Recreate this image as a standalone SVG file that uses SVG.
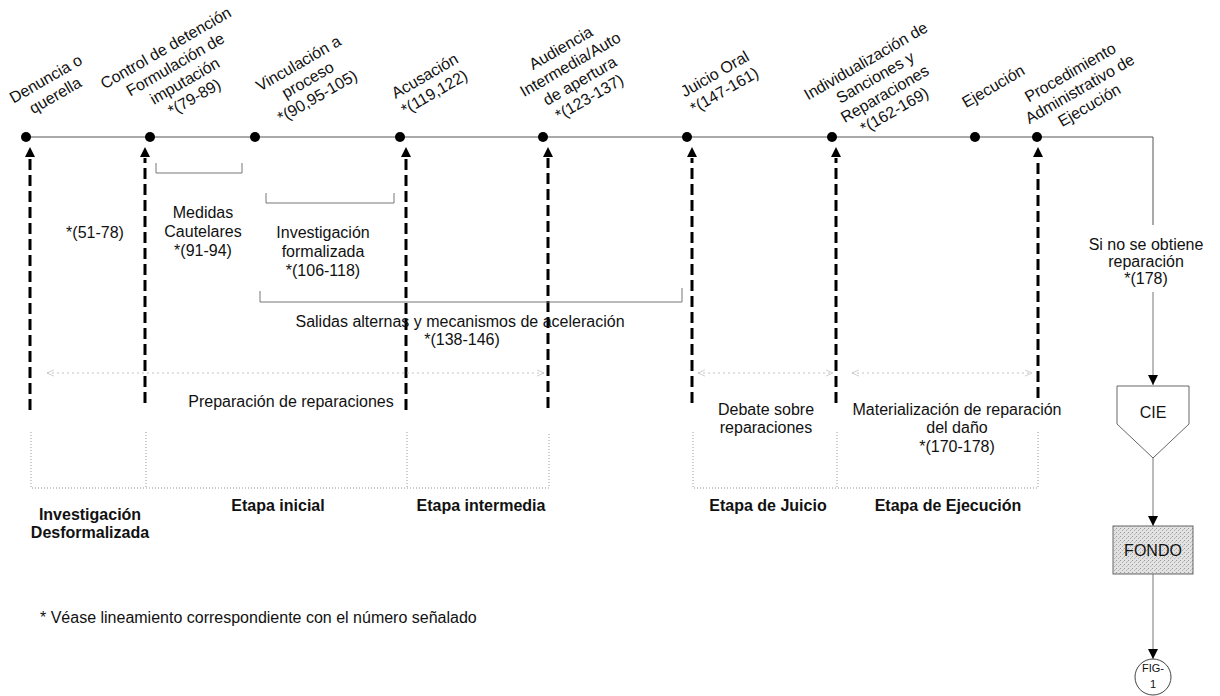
<svg xmlns="http://www.w3.org/2000/svg" width="1220" height="696" viewBox="0 0 1220 696">
<defs>
<style>
text{font-family:"Liberation Sans",Arial,sans-serif;font-size:16px;fill:#111}
.c{text-anchor:middle}
.b{font-weight:bold}
.tl{stroke:#555;stroke-width:1;fill:none}
.dash{stroke:#000;stroke-width:3;stroke-dasharray:11 5;fill:none}
.brk{stroke:#777;stroke-width:1;fill:none}
.box{stroke:#999;stroke-width:1;stroke-dasharray:1 2;fill:none}
.dot{fill:#000}
.harr{stroke:#c4c4c4;stroke-width:1;stroke-dasharray:2 3;fill:none}
.conn{stroke:#777;stroke-width:1;fill:none}
</style>
<pattern id="stip" width="4" height="4" patternUnits="userSpaceOnUse">
<rect width="4" height="4" fill="#e2e2e2"/>
<rect x="0" y="0" width="1" height="1" fill="#9a9a9a"/>
<rect x="2" y="2" width="1" height="1" fill="#b0b0b0"/>
<rect x="3" y="1" width="1" height="1" fill="#c4c4c4"/>
</pattern>
<marker id="ah" viewBox="0 0 10 10" refX="10" refY="5" markerWidth="10" markerHeight="10" markerUnits="userSpaceOnUse" orient="auto">
<path d="M0,0 L10,5 L0,10 Z" fill="#000"/>
</marker>
<marker id="oh" viewBox="0 0 10 10" refX="9" refY="5" markerWidth="8" markerHeight="8" markerUnits="userSpaceOnUse" orient="auto-start-reverse">
<path d="M0,1 L9,5 L0,9" fill="none" stroke="#c4c4c4" stroke-width="1"/>
</marker>
</defs>
<rect width="1220" height="696" fill="#fff"/>

<g id="connectors">
<path class="tl" d="M26,137 H1153 V225"/>
<path class="conn" d="M1153,292 V385" marker-end="url(#ah)"/>
<path class="conn" d="M1153,458 V526" marker-end="url(#ah)"/>
<path class="conn" d="M1153,574 V659" marker-end="url(#ah)"/>
<g id="upward-arrows">
<path class="dash" d="M30,410 V158"/><path d="M30,147 L25,157 L35,157 Z" fill="#000"/>
<path class="dash" d="M145,403 V158"/><path d="M145,147 L140,157 L150,157 Z" fill="#000"/>
<path class="dash" d="M406,410 V158"/><path d="M406,147 L401,157 L411,157 Z" fill="#000"/>
<path class="dash" d="M548,408 V158"/><path d="M548,147 L543,157 L553,157 Z" fill="#000"/>
<path class="dash" d="M692,403 V158"/><path d="M692,147 L687,157 L697,157 Z" fill="#000"/>
<path class="dash" d="M836,403 V158"/><path d="M836,147 L831,157 L841,157 Z" fill="#000"/>
<path class="dash" d="M1038,398 V158"/><path d="M1038,147 L1033,157 L1043,157 Z" fill="#000"/>
</g>
<g id="brackets">
<path class="brk" d="M156,163 V173 H242 V163"/>
<path class="brk" d="M266,193 V203 H394 V193"/>
<path class="brk" d="M260,291 V302 H682 V288"/>
</g>
<g id="span-arrows">
<path class="harr" d="M47,373 H544" marker-start="url(#oh)" marker-end="url(#oh)"/>
<path class="harr" d="M698,373 H833" marker-start="url(#oh)" marker-end="url(#oh)"/>
<path class="harr" d="M852,373 H1032" marker-start="url(#oh)" marker-end="url(#oh)"/>
</g>
<g id="stage-boxes">
<path class="box" d="M31,432 V488 H549 V432 M146,432 V488 M407,432 V488"/>
<path class="box" d="M693,432 V488 H1038 V432 M837,432 V488"/>
</g>
</g>

<g id="milestones">
<g id="m-denuncia"><circle class="dot" cx="26" cy="137" r="5"/>
<g transform="translate(58,100) rotate(-30)"><text class="c"><tspan x="0" y="-19">Denuncia o</tspan><tspan x="0" y="0">querella</tspan></text></g></g>
<g id="m-control"><circle class="dot" cx="150" cy="137" r="5"/>
<g transform="translate(197,102) rotate(-30)"><text class="c"><tspan x="0" y="-57">Control de detención</tspan><tspan x="0" y="-38">Formulación de</tspan><tspan x="0" y="-19">imputación</tspan><tspan x="0" y="0">*(79-89)</tspan></text></g></g>
<g id="m-vinculacion"><circle class="dot" cx="255" cy="137" r="5"/>
<g transform="translate(320,101) rotate(-30)"><text class="c"><tspan x="0" y="-38">Vinculación a</tspan><tspan x="0" y="-19">proceso</tspan><tspan x="0" y="0">*(90,95-105)</tspan></text></g></g>
<g id="m-acusacion"><circle class="dot" cx="400" cy="137" r="5"/>
<g transform="translate(437,97) rotate(-30)"><text class="c"><tspan x="0" y="-19">Acusación</tspan><tspan x="0" y="0">*(119,122)</tspan></text></g></g>
<g id="m-audiencia"><circle class="dot" cx="543" cy="137" r="5"/>
<g transform="translate(592,102) rotate(-30)"><text class="c"><tspan x="0" y="-57">Audiencia</tspan><tspan x="0" y="-38">Intermedia/Auto</tspan><tspan x="0" y="-19">de apertura</tspan><tspan x="0" y="0">*(123-137)</tspan></text></g></g>
<g id="m-juicio"><circle class="dot" cx="687" cy="137" r="5"/>
<g transform="translate(727,95) rotate(-30)"><text class="c"><tspan x="0" y="-19">Juicio Oral</tspan><tspan x="0" y="0">*(147-161)</tspan></text></g></g>
<g id="m-individualizacion"><circle class="dot" cx="832" cy="137" r="5"/>
<g transform="translate(897,115) rotate(-30)"><text class="c"><tspan x="0" y="-57">Individualización de</tspan><tspan x="0" y="-38">Sanciones y</tspan><tspan x="0" y="-19">Reparaciones</tspan><tspan x="0" y="0">*(162-169)</tspan></text></g></g>
<g id="m-ejecucion"><circle class="dot" cx="975" cy="137" r="5"/>
<g transform="translate(996,91) rotate(-30)"><text class="c"><tspan x="0" y="0">Ejecución</tspan></text></g></g>
<g id="m-procedimiento"><circle class="dot" cx="1037" cy="137" r="5"/>
<g transform="translate(1092,110) rotate(-30)"><text class="c"><tspan x="0" y="-38">Procedimiento</tspan><tspan x="0" y="-19">Administrativo de</tspan><tspan x="0" y="0">Ejecución</tspan></text></g></g>
</g>

<g id="phase-labels">
<text class="c" x="95" y="238">*(51-78)</text>
<text class="c"><tspan x="203" y="218">Medidas</tspan><tspan x="203" y="237">Cautelares</tspan><tspan x="203" y="256">*(91-94)</tspan></text>
<text class="c"><tspan x="323" y="238">Investigación</tspan><tspan x="323" y="257">formalizada</tspan><tspan x="323" y="276">*(106-118)</tspan></text>
<text class="c"><tspan x="460" y="327">Salidas alternas y mecanismos de aceleración</tspan><tspan x="462" y="345">*(138-146)</tspan></text>
<text class="c" x="291" y="407">Preparación de reparaciones</text>
<text class="c"><tspan x="766" y="415">Debate sobre</tspan><tspan x="766" y="433">reparaciones</tspan></text>
<text class="c"><tspan x="957" y="415">Materialización de reparación</tspan><tspan x="957" y="433">del daño</tspan><tspan x="957" y="452">*(170-178)</tspan></text>
<text class="c"><tspan x="1146" y="250">Si no se obtiene</tspan><tspan x="1146" y="267">reparación</tspan><tspan x="1146" y="284">*(178)</tspan></text>
</g>

<g id="stages">
<text class="c b"><tspan x="90" y="520">Investigación</tspan><tspan x="90" y="538">Desformalizada</tspan></text>
<text class="c b" x="278" y="511">Etapa inicial</text>
<text class="c b" x="481" y="511">Etapa intermedia</text>
<text class="c b" x="768" y="511">Etapa de Juicio</text>
<text class="c b" x="948" y="511">Etapa de Ejecución</text>
</g>

<g id="node-cie">
<path d="M1117,386 H1189 V424 L1153,458 L1117,424 Z" fill="#fff" stroke="#666" stroke-width="1"/>
<text class="c" x="1153" y="418">CIE</text>
</g>
<g id="node-fondo">
<rect x="1113" y="526" width="80" height="48" fill="url(#stip)" stroke="#666" stroke-width="1"/>
<text class="c" x="1153" y="556">FONDO</text>
</g>
<g id="node-fig">
<circle cx="1153" cy="677" r="18" fill="#fff" stroke="#444" stroke-width="1"/>
<text class="c" style="font-size:11px" x="1153" y="672">FIG-</text>
<text class="c" style="font-size:11px" x="1153" y="688">1</text>
</g>

<text x="40" y="623">* Véase lineamiento correspondiente con el número señalado</text>
</svg>
